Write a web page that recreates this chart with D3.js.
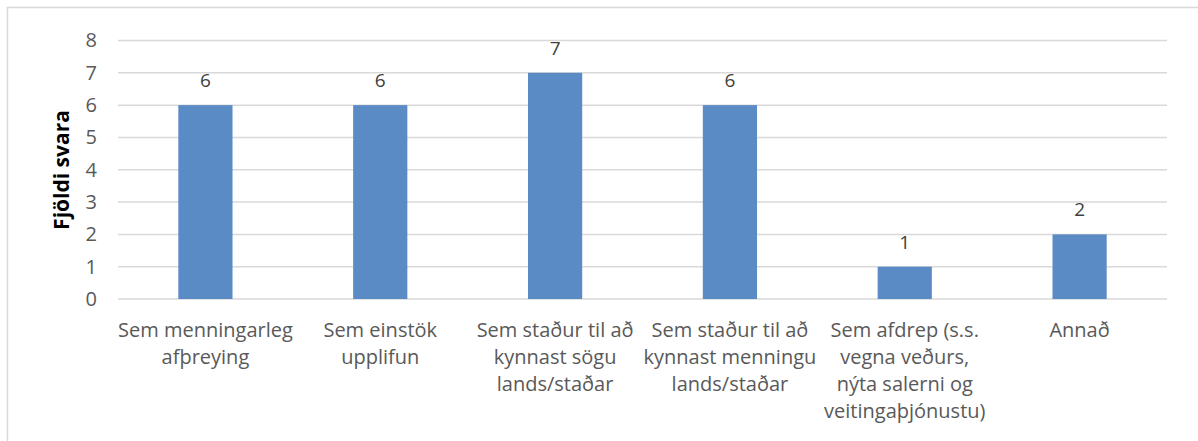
<!DOCTYPE html>
<html>
<head>
<meta charset="utf-8">
<script src="https://cdn.jsdelivr.net/npm/d3@7"></script>
<style>
  body { margin: 0; background: #fff; }
  text { font-family: "Open Sans", sans-serif; }
</style>
</head>
<body>
<div id="chart"></div>
<script>
var w = 1198
var h = 441

// categories (each entry = lines of the wrapped label)
var categories = [
    ["Sem menningarleg", "afþreying"],
    ["Sem einstök", "upplifun"],
    ["Sem staður til að", "kynnast sögu", "lands/staðar"],
    ["Sem staður til að", "kynnast menningu", "lands/staðar"],
    ["Sem afdrep (s.s.", "vegna veðurs,", "nýta salerni og", "veitingaþjónustu)"],
    ["Annað"]
]
var values = [6, 6, 7, 6, 1, 2]
var yTicks = [0, 1, 2, 3, 4, 5, 6, 7, 8]

var margin = { left: 118, right: 31, top: 40.5, bottom: 142 }

var svg = d3.select("#chart").append("svg")
    .attr("width", w)
    .attr("height", h)

// outer chart border
svg.append("rect")
    .attr("x", 7.5)
    .attr("y", 7.5)
    .attr("width", w + 10)
    .attr("height", h + 10)
    .attr("fill", "none")
    .attr("stroke", "#d9d9d9")
    .attr("stroke-width", 1.5)

var x = d3.scaleBand()
    .domain(d3.range(categories.length))
    .range([margin.left, w - margin.right])
    .paddingInner(0.69)
    .paddingOuter(0.345)

var y = d3.scaleLinear()
    .domain([0, 8])
    .range([h - margin.bottom, margin.top])

// gridlines
svg.append("g").selectAll("line")
    .data(yTicks)
    .join("line")
    .attr("x1", margin.left)
    .attr("x2", w - margin.right)
    .attr("y1", d => y(d))
    .attr("y2", d => y(d))
    .attr("stroke", "#d9d9d9")
    .attr("stroke-width", 1.5)

// y tick labels
var yAxis = svg.append("g")
    .attr("transform", "translate(" + (margin.left - 21) + ",0)")
    .call(d3.axisLeft(y).tickValues(yTicks).tickSize(0).tickPadding(0))
yAxis.select(".domain").remove()
yAxis.selectAll("text")
    .attr("fill", "#595959")
    .style("font-size", "20px")
    .style("font-family", "Open Sans, sans-serif")

// y axis title
svg.append("text")
    .attr("transform", "translate(69,170) rotate(-90)")
    .attr("text-anchor", "middle")
    .attr("font-weight", "bold")
    .attr("font-size", "21px")
    .attr("fill", "#000")
    .text("Fjöldi svara")

// bars
svg.append("g").selectAll("rect")
    .data(values)
    .join("rect")
    .attr("x", (d, i) => x(i))
    .attr("width", x.bandwidth())
    .attr("y", d => y(d))
    .attr("height", d => y(0) - y(d))
    .attr("fill", "#5b8bc5")

// value labels
svg.append("g").selectAll("text")
    .data(values)
    .join("text")
    .attr("x", (d, i) => x(i) + x.bandwidth() / 2)
    .attr("y", d => y(d) - 18)
    .attr("text-anchor", "middle")
    .attr("font-size", "19px")
    .attr("fill", "#404040")
    .text(d => d)

// category labels
var catG = svg.append("g").selectAll("text")
    .data(categories)
    .join("text")
    .attr("x", (d, i) => x(i) + x.bandwidth() / 2)
    .attr("y", y(0) + 38)
    .attr("text-anchor", "middle")
    .attr("font-size", "20px")
    .attr("fill", "#595959")

catG.selectAll("tspan")
    .data(d => d)
    .join("tspan")
    .attr("x", function () { return this.parentNode.getAttribute("x") })
    .attr("dy", (d, i) => i === 0 ? 0 : 27)
    .text(d => d)
</script>
</body>
</html>
